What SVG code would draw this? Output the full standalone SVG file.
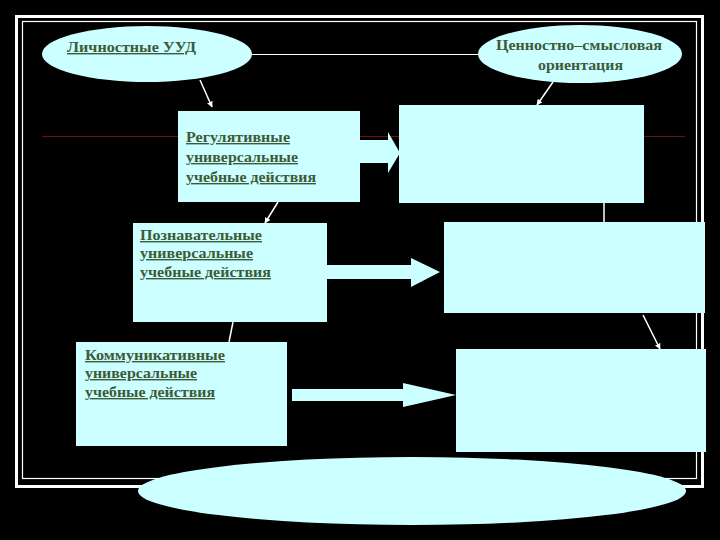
<svg xmlns="http://www.w3.org/2000/svg" width="720" height="540" viewBox="0 0 720 540">
<defs>
<style>
.shape{fill:#CCFFFF}
.t{font-family:"Liberation Serif","DejaVu Serif",serif;font-size:14px;font-weight:bold;fill:#3d5a37}
.u{text-decoration:underline}
.conn{stroke:#ffffff;stroke-width:1.5;fill:none}
</style>
<marker id="ah" viewBox="0 0 10 10" refX="9" refY="5" markerWidth="6" markerHeight="6" orient="auto" markerUnits="userSpaceOnUse">
<path d="M0,0 L10,5 L0,10 z" fill="#ffffff"/>
</marker>
</defs>
<rect x="0" y="0" width="720" height="540" fill="#000000"/>
<g id="frame">
<rect x="16.5" y="16.5" width="686" height="470" fill="none" stroke="#ffffff" stroke-width="3"/>
<rect x="22.5" y="21.5" width="674" height="457" fill="none" stroke="#ffffff" stroke-width="1.2"/>
</g>
<g id="guides">
<line x1="42" y1="136.5" x2="685" y2="136.5" stroke="#6a1010" stroke-width="1"/>
<line x1="250" y1="54.5" x2="482" y2="54.5" stroke="#ffffff" stroke-width="1"/>
</g>
<g id="connectors">
<line class="conn" x1="200" y1="80" x2="212" y2="107" marker-end="url(#ah)"/>
<line class="conn" x1="553" y1="82" x2="537" y2="105" marker-end="url(#ah)"/>
<line class="conn" x1="278" y1="202" x2="265" y2="223" marker-end="url(#ah)"/>
<line class="conn" x1="233" y1="322" x2="229" y2="342"/>
<line class="conn" x1="604" y1="203" x2="604" y2="222"/>
<line class="conn" x1="643" y1="315" x2="660" y2="349" marker-end="url(#ah)"/>
<polygon class="shape" points="360,140 388,140 388,132 400,153 388,173 388,163 360,163"/>
<polygon class="shape" points="327,265 411,265 411,258 440,272 411,287 411,279 327,279"/>
<polygon class="shape" points="292,389 403,389 403,383 456,395 403,407 403,401 292,401"/>
</g>
<g id="node-lichnostnye">
<ellipse class="shape" cx="147" cy="54" rx="105" ry="28"/>
<text class="t u" x="67" y="52" textLength="129" lengthAdjust="spacingAndGlyphs">Личностные УУД</text>
</g>
<g id="node-cennostno">
<ellipse class="shape" cx="580" cy="54" rx="102" ry="29"/>
<text class="t" x="496" y="50" textLength="166" lengthAdjust="spacingAndGlyphs">Ценностно–смысловая</text>
<text class="t" x="538" y="70" textLength="85" lengthAdjust="spacingAndGlyphs">ориентация</text>
</g>
<g id="node-regulyativnye">
<rect class="shape" x="178" y="111" width="182" height="91"/>
<text class="t u" x="186" y="142" textLength="104" lengthAdjust="spacingAndGlyphs">Регулятивные</text>
<text class="t u" x="186" y="162" textLength="112" lengthAdjust="spacingAndGlyphs">универсальные</text>
<text class="t u" x="186" y="182" textLength="130" lengthAdjust="spacingAndGlyphs">учебные действия</text>
</g>
<g id="node-box-r1">
<rect class="shape" x="399" y="105" width="245" height="98"/>
</g>
<g id="node-poznavatelnye">
<rect class="shape" x="133" y="223" width="194" height="99"/>
<text class="t u" x="140" y="240" textLength="122" lengthAdjust="spacingAndGlyphs">Познавательные</text>
<text class="t u" x="140" y="258" textLength="113" lengthAdjust="spacingAndGlyphs">универсальные</text>
<text class="t u" x="140" y="277" textLength="131" lengthAdjust="spacingAndGlyphs">учебные действия</text>
</g>
<g id="node-box-r2">
<rect class="shape" x="444" y="222" width="261" height="91"/>
</g>
<g id="node-kommunikativnye">
<rect class="shape" x="76" y="342" width="211" height="104"/>
<text class="t u" x="85" y="360" textLength="140" lengthAdjust="spacingAndGlyphs">Коммуникативные</text>
<text class="t u" x="85" y="378" textLength="112" lengthAdjust="spacingAndGlyphs">универсальные</text>
<text class="t u" x="85" y="397" textLength="130" lengthAdjust="spacingAndGlyphs">учебные действия</text>
</g>
<g id="node-box-r3">
<rect class="shape" x="456" y="349" width="250" height="103"/>
</g>
<g id="node-bottom-ellipse">
<ellipse class="shape" cx="412" cy="491" rx="274" ry="34"/>
</g>
</svg>
